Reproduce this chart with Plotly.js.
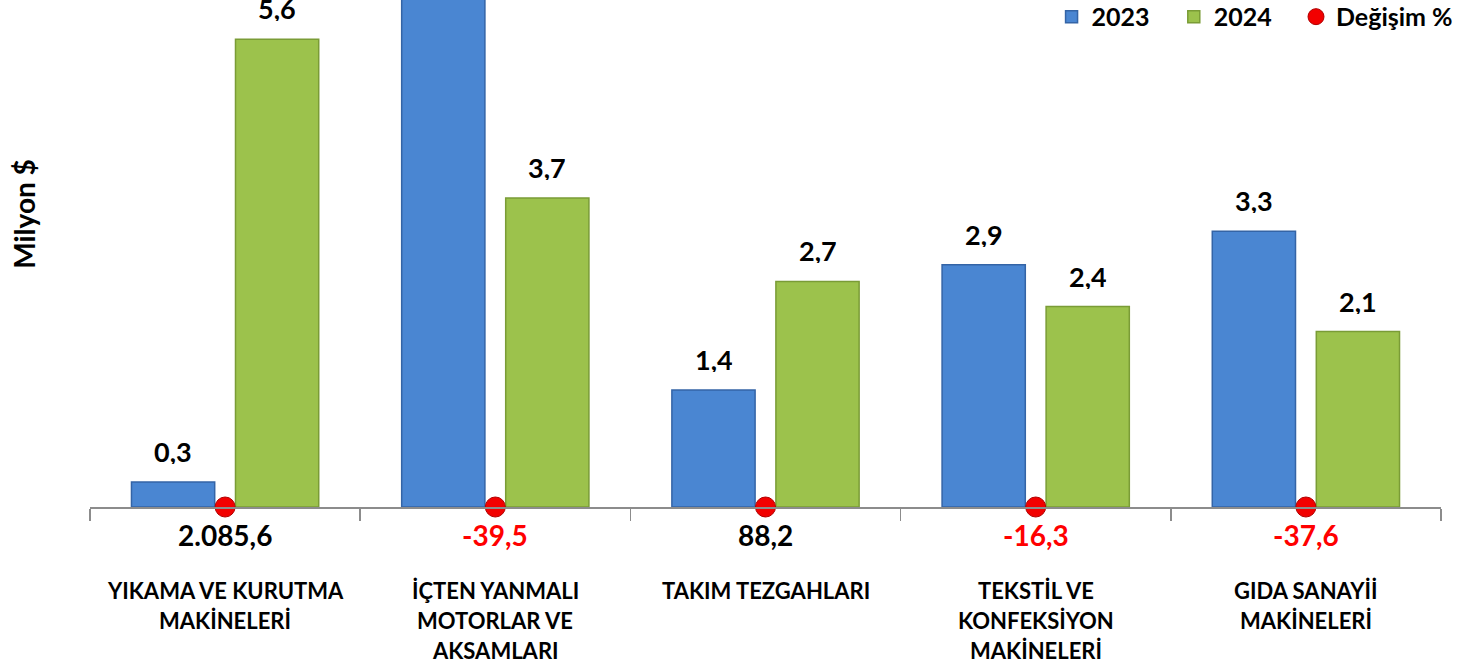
<!DOCTYPE html>
<html>
<head>
<meta charset="utf-8">
<script src="https://cdn.plot.ly/plotly-3.0.1.min.js"></script>
<style>
html,body{margin:0;padding:0;background:#fff;}
#chart{width:1458px;height:666px;}
</style>
</head>
<body>
<div id="chart"></div>
<script>
var categories = ["YIKAMA VE KURUTMA<br>MAKİNELERİ", "İÇTEN YANMALI<br>MOTORLAR VE<br>AKSAMLARI", "TAKIM TEZGAHLARI", "TEKSTİL VE<br>KONFEKSİYON<br>MAKİNELERİ", "GIDA SANAYİİ<br>MAKİNELERİ"];
var values2023 = [0.3, 6.1, 1.4, 2.9, 3.3];
var values2024 = [5.6, 3.7, 2.7, 2.4, 2.1];
var changePct = [2085.6, -39.5, 88.2, -16.3, -37.6];
var seriesNames = ["2023", "2024", "Değişim %"];

var FONT = "Lato, 'Open Sans', sans-serif";
var catIdx = categories.map(function(_, i){ return i; });
var PAD = "&nbsp;&nbsp;&nbsp;";

function fmt(v){
  var s = Math.abs(v).toFixed(1).split(".");
  var intPart = s[0].replace(/\B(?=(\d{3})+(?!\d))/g, ".");
  return (v < 0 ? "-" : "") + intPart + "," + s[1];
}
function b(t){ return "<b>" + t + "</b>"; }

var traces = [
  {
    type: "bar", name: b(seriesNames[0]) + PAD, x: catIdx, y: values2023,
    marker: {color: "#4A86D2", line: {color: "#3464A6", width: 1.5}},
    hoverinfo: "skip"
  },
  {
    type: "bar", name: b(seriesNames[1]) + PAD, x: catIdx, y: values2024,
    marker: {color: "#9CC24C", line: {color: "#7A9C36", width: 1.5}},
    hoverinfo: "skip"
  },
  {
    type: "scatter", mode: "markers", name: b(seriesNames[2]), x: catIdx,
    y: changePct.map(function(){ return 0; }),
    marker: {color: "#F20000", size: 20, line: {color: "#B00000", width: 1}},
    cliponaxis: false, hoverinfo: "skip"
  }
];

var YMAX = 6.07;
var annotations = [];
// bar value labels
[values2023, values2024].forEach(function(arr, s){
  arr.forEach(function(v, i){
    annotations.push({
      x: i, y: v, xref: "x", yref: "y", text: b(fmt(v)), showarrow: false,
      xanchor: "center", yanchor: "bottom", xshift: s === 0 ? -52 : 52, yshift: 16,
      height: 26, valign: "middle",
      font: {family: FONT, size: 27, color: "#000"}
    });
  });
});
// change labels
changePct.forEach(function(v, i){
  annotations.push({
    x: i, y: 0, xref: "x", yref: "y", text: b(fmt(v)), showarrow: false,
    xanchor: "center", yanchor: "middle", yshift: -28,
    font: {family: FONT, size: 28, color: v < 0 ? "#FF0000" : "#000"}
  });
});
// category labels, one annotation per line
categories.forEach(function(c, i){
  c.split("<br>").forEach(function(line, j){
    annotations.push({
      x: i, y: 0, xref: "x", yref: "paper", text: b(line), showarrow: false,
      xanchor: "center", yanchor: "middle", yshift: -83 - 30 * j,
      font: {family: FONT, size: 22, color: "#000"}
    });
  });
});
// y axis title
annotations.push({
  x: -0.049, y: 0.578, xref: "paper", yref: "paper", text: b("Milyon $"), textangle: -90,
  showarrow: false, xanchor: "center", yanchor: "middle",
  font: {family: FONT, size: 28, color: "#000"}
});

var layout = {
  width: 1458, height: 666,
  margin: {l: 90, r: 17, t: 0, b: 159, autoexpand: false},
  paper_bgcolor: "#fff", plot_bgcolor: "#fff",
  barmode: "group", bargap: 0.23, bargroupgap: 0.2,
  showlegend: true,
  legend: {
    orientation: "h", x: 1.013, xanchor: "right", y: 1.012, yanchor: "top",
    font: {family: FONT, size: 25, color: "#000"},
    bgcolor: "rgba(0,0,0,0)", traceorder: "normal", itemwidth: 30
  },
  xaxis: {
    type: "linear", range: [-0.5, 4.5], showgrid: false, zeroline: false,
    showline: true, linecolor: "#8c8c8c", linewidth: 1.5,
    tickmode: "array", tickvals: [-0.5, 0.5, 1.5, 2.5, 3.5, 4.5], ticktext: ["", "", "", "", "", ""],
    ticks: "outside", ticklen: 12, tickcolor: "#8c8c8c", tickwidth: 1.5,
    fixedrange: true
  },
  yaxis: {
    range: [0, YMAX], showgrid: false, zeroline: false, showline: false,
    showticklabels: false, ticks: "", fixedrange: true
  },
  annotations: annotations
};

Plotly.newPlot("chart", traces, layout, {displayModeBar: false, staticPlot: true});
</script>
</body>
</html>
